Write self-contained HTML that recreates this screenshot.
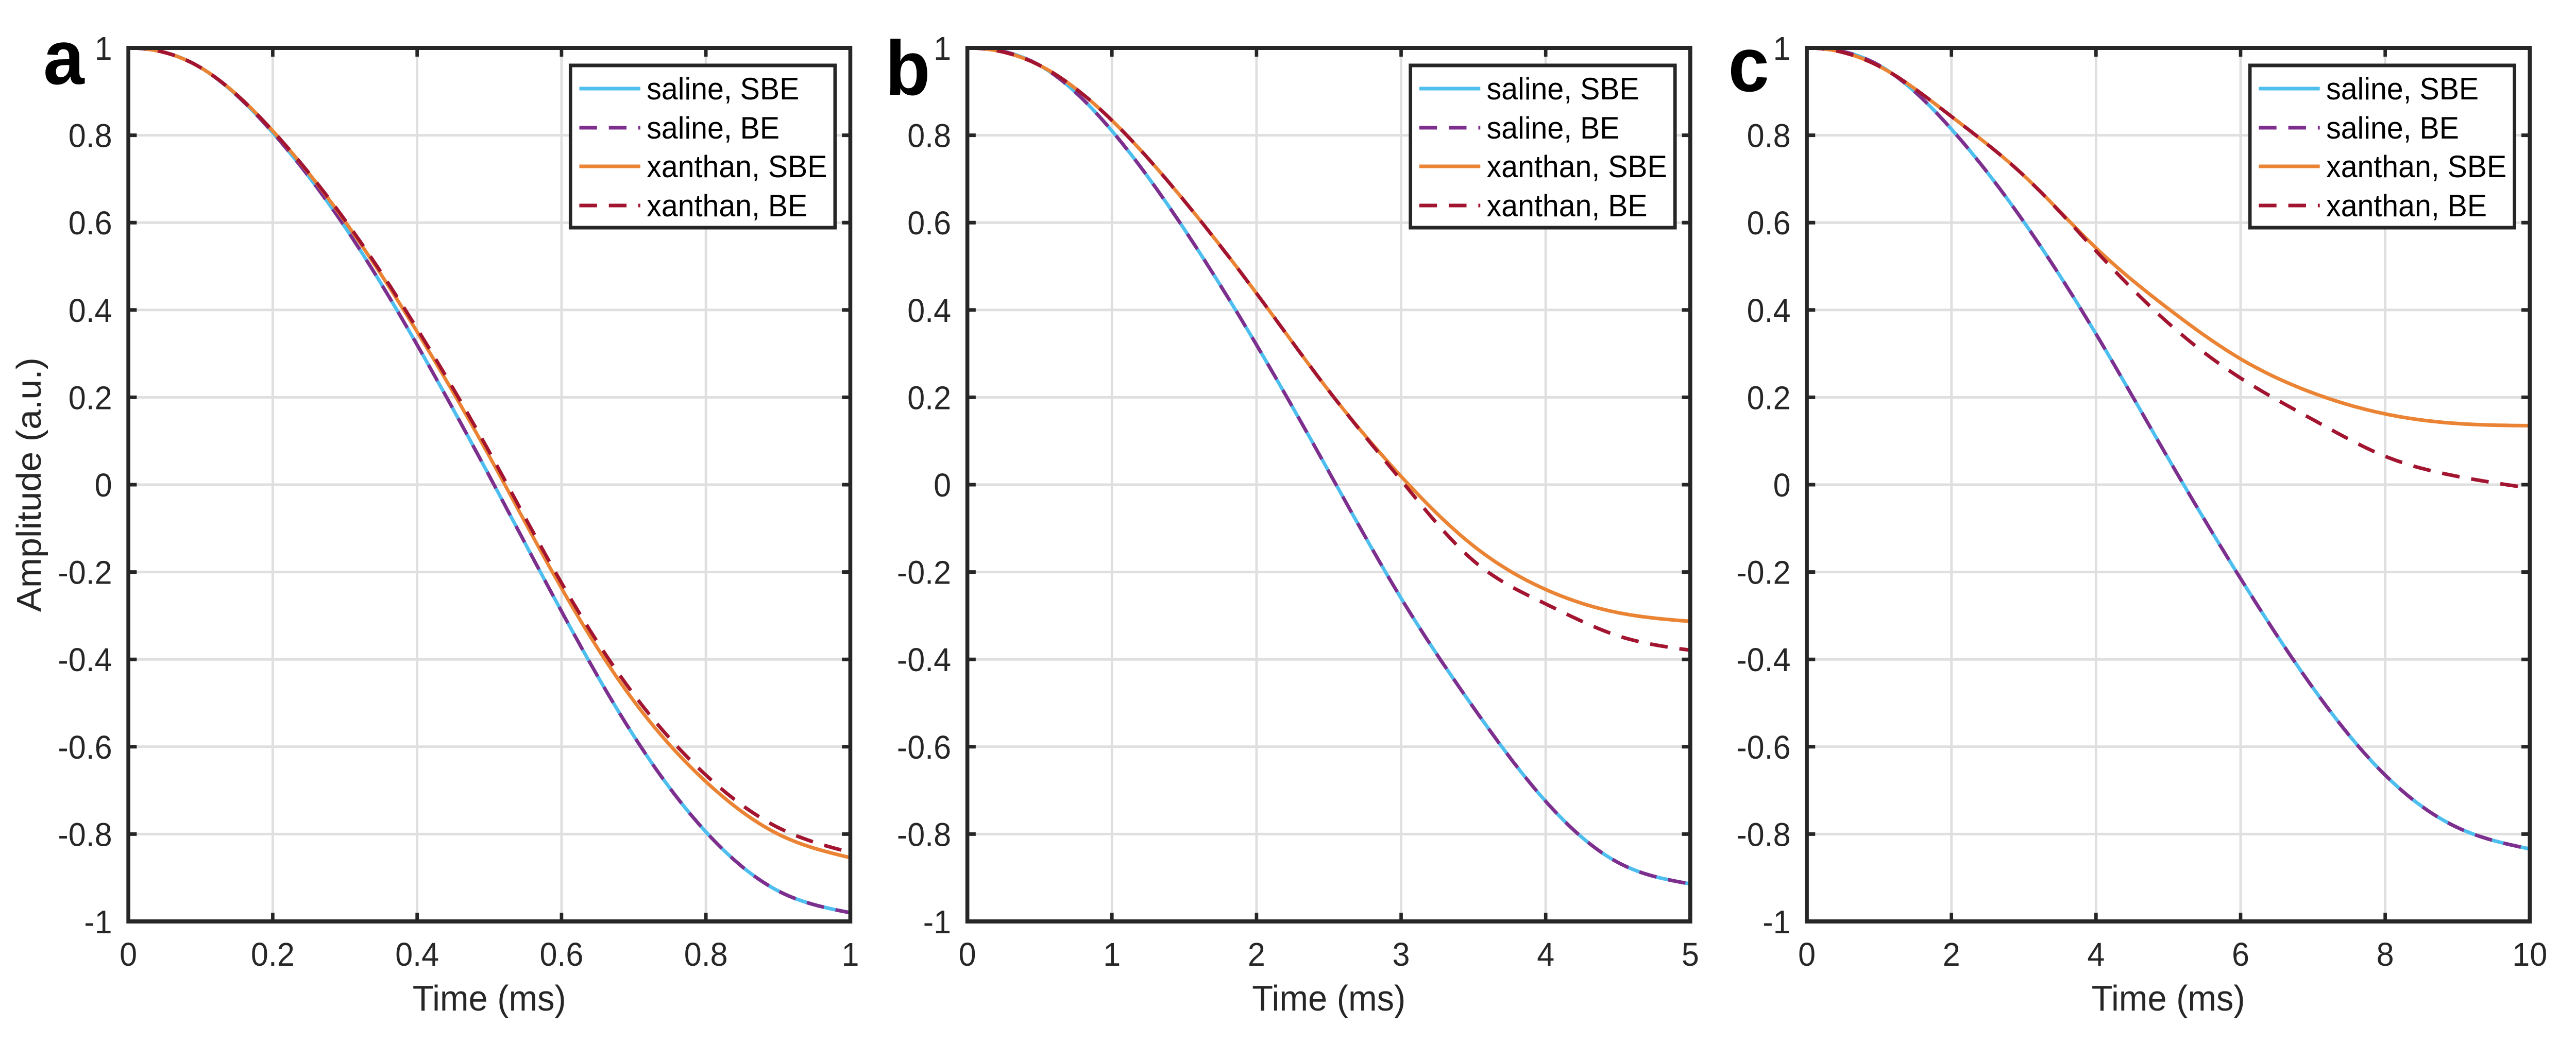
<!DOCTYPE html>
<html><head><meta charset="utf-8">
<style>
html,body{margin:0;padding:0;background:#fff;width:100%;height:100%;overflow:hidden;}
svg{display:block;width:100vw;height:100vh;}
text{font-family:"Liberation Sans",Arial,sans-serif;fill:#262626;}
</style></head>
<body>
<svg id="fig" viewBox="0 0 5238 2025" preserveAspectRatio="none" xmlns="http://www.w3.org/2000/svg"></svg>
<script>
// ---- data ----
const tA = [0,0.1,0.2,0.3,0.4,0.5,0.6,0.7,0.8,0.9,1.0];
const salineA = [1,0.955,0.806,0.59,0.32,0.02,-0.29,-0.575,-0.795,-0.93,-0.98];
const xanSbeA = [1,0.955,0.81,0.603,0.35,0.065,-0.237,-0.495,-0.68,-0.80,-0.854];
const xanBeA  = [1,0.955,0.81,0.606,0.357,0.075,-0.225,-0.48,-0.665,-0.785,-0.842];

const tB = [0,0.5,1,1.5,2,2.5,3,3.5,4,4.5,5];
const salineB = [1,0.96,0.81,0.585,0.32,0.03,-0.26,-0.51,-0.725,-0.865,-0.914];
const xanSbeB = [1,0.96,0.834,0.65,0.438,0.215,0.019,-0.14,-0.24,-0.293,-0.313];
const xanBeB  = [1,0.96,0.834,0.65,0.438,0.215,0.01,-0.174,-0.273,-0.346,-0.379];

const tC = [0,1,2,3,4,5,6,7,8,9,10];
const salineC = [1,0.96,0.814,0.602,0.345,0.06,-0.215,-0.465,-0.665,-0.785,-0.834];
const xanSbeC = [1,0.958,0.843,0.708,0.542,0.403,0.288,0.21,0.162,0.14,0.135];
const xanBeC  = [1,0.958,0.843,0.708,0.535,0.37,0.244,0.149,0.065,0.019,-0.008];

const yTicks = [1,0.8,0.6,0.4,0.2,0,-0.2,-0.4,-0.6,-0.8,-1];
const yTickLabels = ["1","0.8","0.6","0.4","0.2","0","-0.2","-0.4","-0.6","-0.8","-1"];
const xTicksA = [0,0.2,0.4,0.6,0.8,1];
const xTickLabelsA = ["0","0.2","0.4","0.6","0.8","1"];
const xTicksB = [0,1,2,3,4,5];
const xTickLabelsB = ["0","1","2","3","4","5"];
const xTicksC = [0,2,4,6,8,10];
const xTickLabelsC = ["0","2","4","6","8","10"];
const legendLabels = ["saline, SBE","saline, BE","xanthan, SBE","xanthan, BE"];

// ---- drawing ----
const NS = "http://www.w3.org/2000/svg";
const svg = document.getElementById('fig');
function mk(tag, attrs, parent){
  const e = document.createElementNS(NS, tag);
  for (const k in attrs) e.setAttribute(k, attrs[k]);
  (parent||svg).appendChild(e);
  return e;
}
const TOP = 93, BOT = 1789;
const COLORS = ["#4DBEEE","#7E2F8E","#EA8434","#A2142F"];
const DASH = [null,"36,24",null,"36,24"];

// cubic spline, clamped slope 0 at start, natural at end; sampled densely
function spline(xs, ys){
  const n = xs.length;
  const h = [];
  for (let i=0;i<n-1;i++) h.push(xs[i+1]-xs[i]);
  // solve for second derivatives M
  const a = new Array(n).fill(0), b = new Array(n).fill(0), c = new Array(n).fill(0), r = new Array(n).fill(0);
  b[0] = 2*h[0]; c[0] = h[0]; r[0] = 6*((ys[1]-ys[0])/h[0] - 0);
  for (let i=1;i<n-1;i++){
    a[i] = h[i-1]; b[i] = 2*(h[i-1]+h[i]); c[i] = h[i];
    r[i] = 6*((ys[i+1]-ys[i])/h[i] - (ys[i]-ys[i-1])/h[i-1]);
  }
  b[n-1] = 1; r[n-1] = 0;
  for (let i=1;i<n;i++){
    const w = a[i]/b[i-1];
    b[i] -= w*c[i-1]; r[i] -= w*r[i-1];
  }
  const M = new Array(n);
  M[n-1] = r[n-1]/b[n-1];
  for (let i=n-2;i>=0;i--) M[i] = (r[i]-c[i]*M[i+1])/b[i];
  let p = "M"+xs[0].toFixed(1)+","+ys[0].toFixed(1);
  for (let i=0;i<n-1;i++){
    for (let k=1;k<=20;k++){
      const x = xs[i] + h[i]*k/20;
      const A = (xs[i+1]-x)/h[i], B = (x-xs[i])/h[i];
      const y = A*ys[i] + B*ys[i+1] + ((A*A*A-A)*M[i] + (B*B*B-B)*M[i+1])*h[i]*h[i]/6;
      p += " L"+x.toFixed(1)+","+y.toFixed(1);
    }
  }
  return p;
}

function panel(id, L, R, xmax, ts, series, xTicks, xLabels, letter, letterX, letterY){
  const g = mk('g',{});
  
  
  const xs = v => L + (v/xmax)*(R-L);
  const ys = v => TOP + (1-v)/2*(BOT-TOP);
  yTicks.forEach(v=>{
    const l = mk('line',{x1:L,x2:R,y1:ys(v),y2:ys(v),stroke:"#dfdfdf","stroke-width":5},g);
    
    
  });
  xTicks.forEach(v=>{
    const l = mk('line',{x1:xs(v),x2:xs(v),y1:TOP,y2:BOT,stroke:"#dfdfdf","stroke-width":5},g);
    
    
  });
  const names = ["saline-sbe","saline-be","xanthan-sbe","xanthan-be"];
  series.forEach((vals,i)=>{
    const p = mk('path',{d:spline(ts.map(xs), vals.map(ys)), fill:"none", stroke:COLORS[i], "stroke-width":7, "stroke-linejoin":"round"},g);
    if (DASH[i]) p.setAttribute('stroke-dasharray', DASH[i]);
    
    
  });
  yTicks.forEach(v=>{
    mk('line',{x1:L,x2:L+17,y1:ys(v),y2:ys(v),stroke:"#262626","stroke-width":7},g);
    mk('line',{x1:R,x2:R-17,y1:ys(v),y2:ys(v),stroke:"#262626","stroke-width":7},g);
  });
  xTicks.forEach(v=>{
    mk('line',{x1:xs(v),x2:xs(v),y1:BOT,y2:BOT-17,stroke:"#262626","stroke-width":7},g);
    mk('line',{x1:xs(v),x2:xs(v),y1:TOP,y2:TOP+17,stroke:"#262626","stroke-width":7},g);
  });
  const box = mk('rect',{x:L,y:TOP,width:R-L,height:BOT-TOP,fill:"none",stroke:"#262626","stroke-width":8},g);
  
  
  yTicks.forEach((v,i)=>{
    const t = mk('text',{x:L-33,y:ys(v)+23,"font-size":64,"text-anchor":"end"},g);
    t.textContent = yTickLabels[i];
    
    
  });
  xTicks.forEach((v,i)=>{
    const t = mk('text',{x:xs(v),y:1875,"font-size":64,"text-anchor":"middle"},g);
    t.textContent = xLabels[i];
    
    
  });
  const xt = mk('text',{x:(L+R)/2,y:1962,"font-size":70,"text-anchor":"middle"},g);
  xt.textContent = "Time (ms)";
  
  
  const pl = mk('text',{x:letterX,y:letterY,"font-size":150,"font-weight":"bold",style:"fill:#000"},g);
  pl.textContent = letter;
  
  
  const lg = mk('g',{},g);
  
  
  const lx = R-569, ly = 127;
  mk('rect',{x:lx,y:ly,width:538,height:315,fill:"#fff",stroke:"#262626","stroke-width":7},lg);
  const rows = [172,248,323,399];
  legendLabels.forEach((s,i)=>{
    const e = mk('g',{},lg);
    
    
    const ln = mk('line',{x1:lx+18,x2:lx+142,y1:rows[i],y2:rows[i],stroke:COLORS[i],"stroke-width":7},e);
    if (DASH[i]) ln.setAttribute('stroke-dasharray', DASH[i]);
    const t = mk('text',{x:lx+155,y:rows[i]+21,"font-size":60,style:"fill:#000"},e);
    t.textContent = s;
  });
}

panel('a', 261, 1729, 1, tA, [salineA, salineA, xanSbeA, xanBeA], xTicksA, xTickLabelsA, 'a', 88, 163);
panel('b', 1967, 3437, 5, tB, [salineB, salineB, xanSbeB, xanBeB], xTicksB, xTickLabelsB, 'b', 1800, 184);
panel('c', 3674, 5144, 10, tC, [salineC, salineC, xanSbeC, xanBeC], xTicksC, xTickLabelsC, 'c', 3514, 177);

const yl = mk('text',{x:0,y:0,"font-size":70,"text-anchor":"middle",transform:"translate(83,941) rotate(-90)"});
yl.textContent = "Amplitude (a.u.)";


</script>
</body></html>
